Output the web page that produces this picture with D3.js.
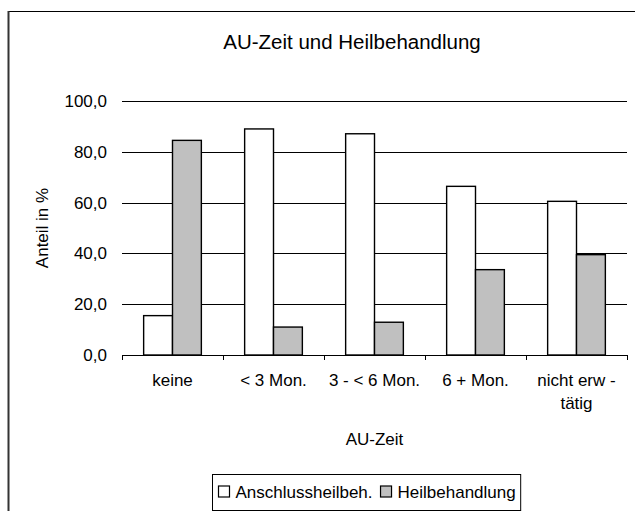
<!DOCTYPE html>
<html>
<head>
<meta charset="utf-8">
<script src="https://cdn.jsdelivr.net/npm/d3@7"></script>
<style>
  html, body { margin: 0; padding: 0; background: #fff; }
  svg { display: block; }
  text { font-family: "Liberation Sans", Arial, sans-serif; fill: #000; }
</style>
</head>
<body>
<svg id="chart" width="635" height="511"></svg>
<script>
// ---- data ----
const chartTitle = "AU-Zeit und Heilbehandlung";
const xTitle = "AU-Zeit";
const yTitle = "Anteil in %";
const categories = ["keine", "< 3 Mon.", "3 - < 6 Mon.", "6 + Mon.", "nicht erw -\ntätig"];
const seriesNames = ["Anschlussheilbeh.", "Heilbehandlung"];
const anschlussValues = [15.5, 89.0, 87.1, 66.4, 60.5];
const heilValues = [84.5, 11.0, 12.9, 33.6, 39.5];
const yTicks = [0, 20, 40, 60, 80, 100];
const seriesColors = ["#ffffff", "#c0c0c0"];

// ---- layout ----
const svg = d3.select("#chart");
const plot = { left: 122, right: 627, top: 101, bottom: 355 };
const fs = 17;

// outer frame (extends past the window on right/bottom)
svg.append("rect")
  .attr("x", 8.5).attr("y", 11.5)
  .attr("width", 700).attr("height", 600)
  .attr("fill", "none").attr("stroke", "#000").attr("stroke-width", 1);
svg.append("line")
  .attr("x1", 8.5).attr("x2", 8.5).attr("y1", 11).attr("y2", 511)
  .attr("stroke", "#333").attr("stroke-width", 2);

const x = d3.scaleBand().domain(categories).range([plot.left, plot.right]).padding(0);
const bw = x.bandwidth() / 3.5;           // Excel gap width 150%
const xs = d3.scaleBand().domain(seriesNames)
  .range([bw * 0.75, x.bandwidth() - bw * 0.75]).padding(0);
const y = d3.scaleLinear().domain([0, 100]).range([plot.bottom, plot.top]);

const fmt = v => d3.format(".1f")(v).replace(".", ",");

// y gridlines + labels
const yAxis = svg.append("g")
  .attr("transform", `translate(${plot.left},0)`)
  .call(d3.axisLeft(y).tickValues(yTicks).tickSize(-(plot.right - plot.left)).tickPadding(15).tickFormat(fmt));
yAxis.select(".domain").remove();
yAxis.selectAll(".tick line").attr("stroke", "#000").attr("shape-rendering", "crispEdges");
yAxis.selectAll(".tick text").style("font-size", fs + "px").attr("fill", "#000")
  .style("font-family", "'Liberation Sans', Arial, sans-serif");

// bars
const series = [anschlussValues, heilValues];
const groups = svg.append("g");
series.forEach((vals, si) => {
  groups.selectAll(null)
    .data(categories.map((c, i) => ({ c, v: vals[i] })))
    .enter().append("rect")
    .attr("x", d => x(d.c) + xs(seriesNames[si]))
    .attr("y", d => y(d.v))
    .attr("width", xs.bandwidth())
    .attr("height", d => y(0) - y(d.v))
    .attr("fill", seriesColors[si])
    .attr("stroke", "#000")
    .attr("stroke-width", 1.4);
});

// x axis line and boundary ticks
svg.append("line")
  .attr("x1", plot.left).attr("x2", plot.right)
  .attr("y1", y(0)).attr("y2", y(0))
  .attr("stroke", "#000").attr("shape-rendering", "crispEdges");
const bounds = categories.map(c => x(c)).concat([x.range()[1]]);
svg.append("g").selectAll("line").data(bounds).enter().append("line")
  .attr("x1", d => d).attr("x2", d => d)
  .attr("y1", y(0)).attr("y2", y(0) + 5)
  .attr("stroke", "#000").attr("shape-rendering", "crispEdges");

// x category labels
const xl = svg.append("g").selectAll("text").data(categories).enter().append("text")
  .attr("x", d => x(d) + x.bandwidth() / 2)
  .attr("y", y(0) + 31)
  .attr("text-anchor", "middle")
  .style("font-size", fs + "px");
xl.each(function(d) {
  const lines = d.split("\n");
  const t = d3.select(this);
  lines.forEach((ln, i) => {
    t.append("tspan")
      .attr("x", x(d) + x.bandwidth() / 2)
      .attr("dy", i === 0 ? 0 : 23)
      .text(ln);
  });
});

// title
svg.append("text")
  .attr("x", 352).attr("y", 49)
  .attr("text-anchor", "middle")
  .style("font-size", "20.5px")
  .text(chartTitle);

// axis titles
svg.append("text")
  .attr("x", (plot.left + plot.right) / 2).attr("y", 445)
  .attr("text-anchor", "middle")
  .style("font-size", fs + "px")
  .text(xTitle);
svg.append("text")
  .attr("transform", `translate(48,${(plot.top + plot.bottom) / 2}) rotate(-90)`)
  .attr("text-anchor", "middle")
  .style("font-size", fs + "px")
  .text(yTitle);

// legend
const leg = svg.append("g");
const legLeft = 212.5, legTop = 474.5, legH = 36;
let cx = legLeft + 6;
const itemGap = 8;
seriesNames.forEach((name, i) => {
  leg.append("rect")
    .attr("x", cx).attr("y", 486)
    .attr("width", 11).attr("height", 11)
    .attr("fill", seriesColors[i]).attr("stroke", "#000").attr("stroke-width", 1.2);
  const t = leg.append("text")
    .attr("x", cx + 17).attr("y", 498)
    .style("font-size", fs + "px")
    .text(name);
  const w = t.node().getComputedTextLength();
  cx = cx + 17 + w + itemGap;
});
leg.insert("rect", ":first-child")
  .attr("x", legLeft).attr("y", legTop)
  .attr("width", cx - itemGap + 5 - legLeft).attr("height", legH)
  .attr("fill", "#fff").attr("stroke", "#000").attr("stroke-width", 1);
</script>
</body>
</html>
